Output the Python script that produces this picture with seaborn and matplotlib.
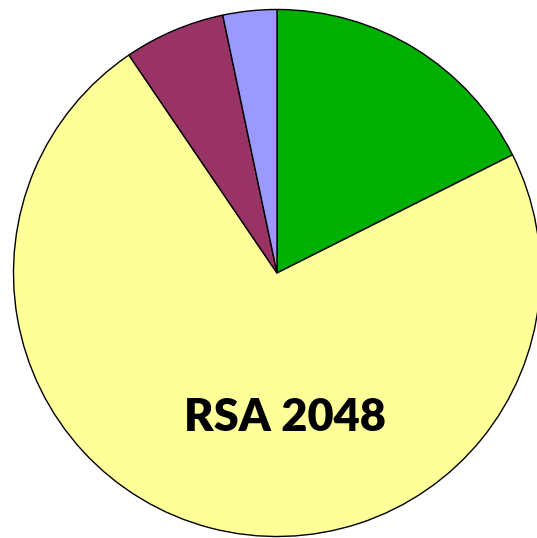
import matplotlib
matplotlib.use("Agg")
import matplotlib.pyplot as plt
import seaborn as sns

# Share of each segment, clockwise from 12 o'clock
segments = ["Green", "Yellow", "Purple", "Blue"]
shares = [17.6, 72.9, 6.2, 3.3]
colors = ["#00B000", "#FFFF99", "#993366", "#9999FF"]
label = "RSA 2048"

sns.set_theme(style="white")

fig = plt.figure(figsize=(5.37, 5.38), dpi=100)
ax = fig.add_axes([0, 0, 1, 1])
ax.pie(shares, colors=colors, startangle=90, counterclock=False,
       radius=1.0, wedgeprops=dict(edgecolor="black", linewidth=1.0))
ax.set_xlim(-1.0512, 0.9867)
ax.set_ylim(-1.0057, 1.036)
ax.set_aspect("auto")
ax.axis("off")

ax.text(0.03, -0.55, label, ha="center", va="center",
        fontsize=32.5, fontweight="heavy", family=["Lato", "DejaVu Sans"],
        color="black")

fig.savefig("out.png", dpi=100)
